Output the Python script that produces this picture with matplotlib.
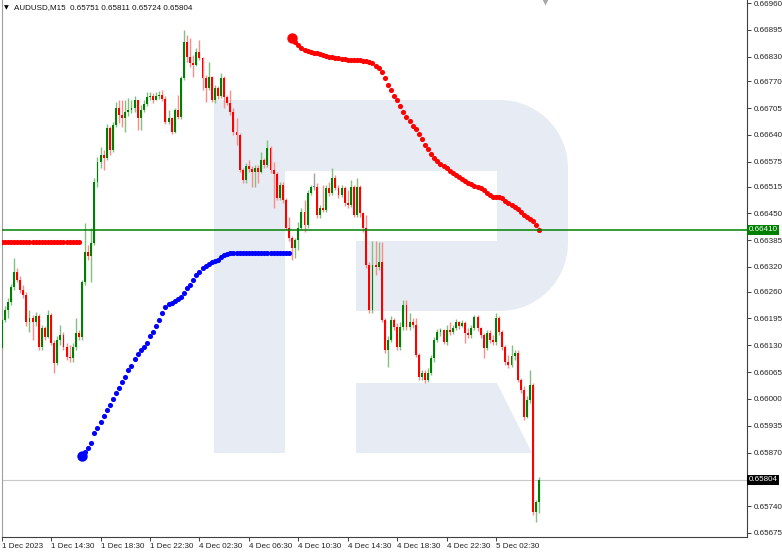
import numpy as np
import matplotlib
matplotlib.use("Agg")
import matplotlib.pyplot as plt
from matplotlib.patches import Polygon
from matplotlib.transforms import blended_transform_factory

plt.rcParams["font.family"] = ["Liberation Sans", "DejaVu Sans"]

# AUDUSD M15 candles, 1 Dec 2023 10:30 -> 5 Dec 2023 05:45
first_open = 0.66123
close_ = [
    0.66191, 0.66216, 0.66235, 0.66271, 0.66308, 0.66288, 0.66264, 0.66252, 0.66186, 0.66196,
    0.66186, 0.66201, 0.66126, 0.66172, 0.66150, 0.66203, 0.66135, 0.66087, 0.66143, 0.66155,
    0.66126, 0.66102, 0.66099, 0.66126, 0.66160, 0.66150, 0.66283, 0.66356, 0.66347, 0.66378,
    0.66526, 0.66574, 0.66591, 0.66584, 0.66657, 0.66604, 0.66664, 0.66705, 0.66688, 0.66681,
    0.66696, 0.66701, 0.66705, 0.66725, 0.66681, 0.66701, 0.66715, 0.66732, 0.66734, 0.66725,
    0.66734, 0.66737, 0.66727, 0.66671, 0.66681, 0.66647, 0.66701, 0.66684, 0.66778, 0.66865,
    0.66829, 0.66814, 0.66810, 0.66841, 0.66827, 0.66778, 0.66754, 0.66781, 0.66725, 0.66754,
    0.66734, 0.66778, 0.66732, 0.66718, 0.66696, 0.66647, 0.66640, 0.66555, 0.66531, 0.66565,
    0.66557, 0.66550, 0.66560, 0.66550, 0.66579, 0.66567, 0.66608, 0.66555, 0.66545, 0.66487,
    0.66519, 0.66482, 0.66414, 0.66390, 0.66366, 0.66385, 0.66414, 0.66453, 0.66422, 0.66499,
    0.66514, 0.66514, 0.66446, 0.66463, 0.66458, 0.66511, 0.66499, 0.66536, 0.66511, 0.66494,
    0.66511, 0.66475, 0.66470, 0.66514, 0.66446, 0.66514, 0.66451, 0.66414, 0.66325, 0.66216,
    0.66325, 0.66320, 0.66332, 0.66191, 0.66119, 0.66143, 0.66191, 0.66174, 0.66126, 0.66174,
    0.66228, 0.66174, 0.66186, 0.66179, 0.66106, 0.66053, 0.66063, 0.66046, 0.66063, 0.66099,
    0.66143, 0.66162, 0.66167, 0.66138, 0.66167, 0.66162, 0.66172, 0.66186, 0.66177, 0.66184,
    0.66160, 0.66155, 0.66172, 0.66199, 0.66172, 0.66155, 0.66123, 0.66160, 0.66143, 0.66138,
    0.66196, 0.66162, 0.66126, 0.66089, 0.66082, 0.66104, 0.66111, 0.66046, 0.66022, 0.65956,
    0.65997, 0.66034, 0.65726, 0.65751, 0.65804,
]
high = [
    0.66196, 0.66225, 0.66245, 0.66279, 0.66342, 0.66317, 0.66298, 0.66276, 0.66259, 0.66216,
    0.66203, 0.66211, 0.66206, 0.66179, 0.66177, 0.66216, 0.66208, 0.66143, 0.66152, 0.66179,
    0.66162, 0.66135, 0.66131, 0.66135, 0.66196, 0.66167, 0.66288, 0.66427, 0.66373, 0.66414,
    0.66536, 0.66587, 0.66611, 0.66604, 0.66667, 0.66662, 0.66671, 0.66720, 0.66725, 0.66725,
    0.66725, 0.66730, 0.66725, 0.66734, 0.66725, 0.66713, 0.66725, 0.66744, 0.66744, 0.66742,
    0.66744, 0.66747, 0.66749, 0.66734, 0.66701, 0.66684, 0.66705, 0.66737, 0.66783, 0.66895,
    0.66882, 0.66875, 0.66834, 0.66851, 0.66870, 0.66829, 0.66785, 0.66817, 0.66783, 0.66761,
    0.66759, 0.66790, 0.66783, 0.66737, 0.66749, 0.66705, 0.66681, 0.66645, 0.66560, 0.66572,
    0.66579, 0.66565, 0.66567, 0.66567, 0.66599, 0.66584, 0.66628, 0.66613, 0.66574, 0.66550,
    0.66526, 0.66526, 0.66487, 0.66441, 0.66395, 0.66390, 0.66429, 0.66463, 0.66482, 0.66506,
    0.66519, 0.66548, 0.66524, 0.66470, 0.66519, 0.66519, 0.66526, 0.66560, 0.66543, 0.66519,
    0.66519, 0.66516, 0.66506, 0.66531, 0.66519, 0.66536, 0.66519, 0.66453, 0.66446, 0.66332,
    0.66383, 0.66383, 0.66380, 0.66380, 0.66196, 0.66152, 0.66201, 0.66196, 0.66184, 0.66186,
    0.66240, 0.66240, 0.66208, 0.66196, 0.66196, 0.66111, 0.66070, 0.66070, 0.66075, 0.66106,
    0.66150, 0.66170, 0.66172, 0.66170, 0.66179, 0.66186, 0.66179, 0.66194, 0.66189, 0.66191,
    0.66189, 0.66172, 0.66179, 0.66203, 0.66203, 0.66174, 0.66160, 0.66167, 0.66167, 0.66155,
    0.66208, 0.66201, 0.66167, 0.66131, 0.66106, 0.66131, 0.66119, 0.66119, 0.66051, 0.66031,
    0.66007, 0.66070, 0.66039, 0.65755, 0.65811,
]
low = [
    0.66119, 0.66186, 0.66196, 0.66228, 0.66264, 0.66283, 0.66257, 0.66245, 0.66177, 0.66162,
    0.66143, 0.66177, 0.66119, 0.66119, 0.66143, 0.66148, 0.66131, 0.66063, 0.66082, 0.66131,
    0.66119, 0.66094, 0.66089, 0.66089, 0.66119, 0.66143, 0.66143, 0.66276, 0.66337, 0.66283,
    0.66373, 0.66514, 0.66560, 0.66555, 0.66579, 0.66591, 0.66599, 0.66659, 0.66669, 0.66659,
    0.66647, 0.66686, 0.66693, 0.66696, 0.66652, 0.66652, 0.66696, 0.66710, 0.66725, 0.66718,
    0.66725, 0.66727, 0.66722, 0.66667, 0.66667, 0.66642, 0.66645, 0.66679, 0.66679, 0.66773,
    0.66817, 0.66805, 0.66781, 0.66807, 0.66822, 0.66749, 0.66720, 0.66749, 0.66720, 0.66718,
    0.66727, 0.66730, 0.66705, 0.66713, 0.66688, 0.66640, 0.66616, 0.66550, 0.66524, 0.66524,
    0.66550, 0.66514, 0.66514, 0.66524, 0.66548, 0.66560, 0.66562, 0.66548, 0.66463, 0.66482,
    0.66482, 0.66475, 0.66410, 0.66383, 0.66337, 0.66342, 0.66361, 0.66410, 0.66405, 0.66414,
    0.66494, 0.66507, 0.66439, 0.66439, 0.66453, 0.66453, 0.66492, 0.66494, 0.66507, 0.66487,
    0.66490, 0.66468, 0.66463, 0.66465, 0.66441, 0.66441, 0.66441, 0.66405, 0.66317, 0.66208,
    0.66208, 0.66300, 0.66313, 0.66186, 0.66111, 0.66077, 0.66138, 0.66167, 0.66119, 0.66119,
    0.66167, 0.66167, 0.66167, 0.66172, 0.66102, 0.66046, 0.66046, 0.66038, 0.66041, 0.66058,
    0.66089, 0.66138, 0.66152, 0.66133, 0.66131, 0.66155, 0.66157, 0.66167, 0.66170, 0.66174,
    0.66135, 0.66148, 0.66148, 0.66167, 0.66165, 0.66148, 0.66099, 0.66119, 0.66135, 0.66131,
    0.66131, 0.66155, 0.66119, 0.66082, 0.66075, 0.66077, 0.66094, 0.66041, 0.66014, 0.65949,
    0.65954, 0.65990, 0.65718, 0.65701, 0.65724,
]

# dotted indicator (stop-and-reverse style) in three runs
sar_flat_start = 0
sar_flat = [
    0.66380, 0.66380, 0.66380, 0.66380, 0.66380, 0.66380, 0.66380, 0.66380, 0.66380, 0.66380,
    0.66380, 0.66380, 0.66380, 0.66380, 0.66380, 0.66380, 0.66380, 0.66380, 0.66380, 0.66380,
    0.66380, 0.66380, 0.66380, 0.66380, 0.66380, 0.66380,
]
sar_up_start = 26
sar_up = [
    0.65861, 0.65871, 0.65881, 0.65893, 0.65917, 0.65929, 0.65944, 0.65958, 0.65973, 0.65985,
    0.66000, 0.66014, 0.66026, 0.66041, 0.66053, 0.66070, 0.66080, 0.66097, 0.66109, 0.66119,
    0.66126, 0.66136, 0.66153, 0.66162, 0.66177, 0.66191, 0.66208, 0.66223, 0.66230, 0.66233,
    0.66237, 0.66242, 0.66247, 0.66257, 0.66269, 0.66276, 0.66288, 0.66300, 0.66308, 0.66317,
    0.66322, 0.66327, 0.66332, 0.66334, 0.66337, 0.66344, 0.66349, 0.66351, 0.66354, 0.66354,
    0.66354, 0.66354, 0.66354, 0.66354, 0.66354, 0.66354, 0.66354, 0.66354, 0.66354, 0.66354,
    0.66354, 0.66354, 0.66354, 0.66354, 0.66354, 0.66354, 0.66354, 0.66354,
]
sar_down_start = 94
sar_down = [
    0.66875, 0.66865, 0.66858, 0.66851, 0.66846, 0.66844, 0.66841, 0.66839, 0.66839, 0.66836,
    0.66834, 0.66831, 0.66829, 0.66829, 0.66827, 0.66827, 0.66824, 0.66824, 0.66822, 0.66822,
    0.66822, 0.66822, 0.66822, 0.66819, 0.66819, 0.66817, 0.66815, 0.66807, 0.66802, 0.66793,
    0.66778, 0.66761, 0.66749, 0.66734, 0.66725, 0.66710, 0.66696, 0.66683, 0.66674, 0.66662,
    0.66654, 0.66642, 0.66630, 0.66616, 0.66606, 0.66594, 0.66584, 0.66577, 0.66570, 0.66565,
    0.66560, 0.66553, 0.66548, 0.66543, 0.66538, 0.66533, 0.66528, 0.66524, 0.66521, 0.66516,
    0.66514, 0.66511, 0.66507, 0.66499, 0.66494, 0.66490, 0.66490, 0.66490, 0.66487, 0.66480,
    0.66475, 0.66470, 0.66465, 0.66460, 0.66453, 0.66446, 0.66441, 0.66436, 0.66431, 0.66421,
    0.66410,
]

level_line = 0.66410
last_price = 0.65804

y_ticks = [0.66960, 0.66895, 0.66830, 0.66770, 0.66705, 0.66640, 0.66575, 0.66515, 0.66450,
           0.66385, 0.66320, 0.66260, 0.66195, 0.66130, 0.66065, 0.66000, 0.65935, 0.65870,
           0.65740, 0.65675]
x_tick_bars = [0, 16, 32, 48, 64, 80, 96, 112, 128, 144, 160]
x_tick_labels = ["1 Dec 2023", "1 Dec 14:30", "1 Dec 18:30", "1 Dec 22:30", "4 Dec 02:30",
                 "4 Dec 06:30", "4 Dec 10:30", "4 Dec 14:30", "4 Dec 18:30", "4 Dec 22:30",
                 "5 Dec 02:30"]
header = "AUDUSD,M15  0.65751 0.65811 0.65724 0.65804"

W, H = 782, 553
fig = plt.figure(figsize=(W / 100, H / 100), dpi=100)
ax = fig.add_axes([1.5 / W, 16 / H, 745.5 / W, 537 / H])

px_per_bar = 3.09
ax.set_xlim(-0.06, -0.06 + 745.5 / px_per_bar)
ax.set_ylim(0.656651, 0.669673)


# watermark "R" (drawn in axes fractions from pixel layout)
def frac(x, y):
    return ((x - 1.5) / 745.5, 1 - y / 537)


t = np.linspace(np.pi / 2, 0, 20)
top_arc = [(500 + 68 * np.cos(a), 168 - 68 * np.sin(a)) for a in t]
t2 = np.linspace(0, np.pi / 2, 20)
bot_arc = [(500 + 68 * np.cos(a), 243 + 68 * np.sin(a)) for a in t2]
outline = ([(214, 100)] + top_arc + bot_arc +
           [(356, 311), (356, 241), (497, 241), (497, 171), (285, 171), (285, 453), (214, 453)])
leg = [(356, 383), (497, 383), (532, 453), (356, 453)]
wm_color = "#e7ecf4"
for shape in (outline, leg):
    ax.add_patch(Polygon([frac(x, y) for x, y in shape], closed=True, transform=ax.transAxes,
                         facecolor=wm_color, edgecolor="none", zorder=0))

# candles
close_a = np.array(close_)
open_a = np.r_[first_open, close_a[:-1]]
high_a = np.array(high)
low_a = np.array(low)
bars = np.arange(len(close_a))
up = close_a > open_a
down = close_a < open_a
flat = close_a == open_a

ax.vlines(bars[up], low_a[up], high_a[up], color="#80c080", lw=1, zorder=2)
ax.vlines(bars[down], low_a[down], high_a[down], color="#ff8a8a", lw=1, zorder=2)
ax.vlines(bars[flat], low_a[flat], high_a[flat], color="#a0a0a0", lw=1, zorder=2)

body_lo = np.minimum(open_a, close_a)
body_h = np.maximum(np.abs(close_a - open_a), 0.00002)
body_col = np.where(up, "#008000", np.where(down, "#ff0000", "#808080"))
ax.bar(bars, body_h, bottom=body_lo, width=0.62, color=body_col, linewidth=0, zorder=3)

# indicator dots
xf = sar_flat_start + np.arange(len(sar_flat))
xu = sar_up_start + np.arange(len(sar_up))
xd = sar_down_start + np.arange(len(sar_down))
ax.plot(xf, sar_flat, "o", ms=3.7, color="#ff0000", mec="none", zorder=4)
ax.plot(xu, sar_up, "o", ms=3.7, color="#0000ff", mec="none", zorder=4)
ax.plot(xd, sar_down, "o", ms=3.7, color="#ff0000", mec="none", zorder=4)
ax.plot(xu[0], sar_up[0], "o", ms=7.5, color="#0000ff", mec="none", zorder=4)
ax.plot(xd[0], sar_down[0], "o", ms=7.5, color="#ff0000", mec="none", zorder=4)

# horizontal levels
ax.axhline(level_line, color="#008000", lw=1.1, zorder=5)
ax.axhline(last_price, color="#c8c8c8", lw=0.8, zorder=1)

# axes styling
ax.yaxis.tick_right()
ax.set_yticks(y_ticks)
ax.set_yticklabels([f"{v:.5f}" for v in y_ticks])
ax.tick_params(axis="y", length=3, width=0.6, pad=2, labelsize=5.8, colors="#222222")
ax.set_xticks(x_tick_bars)
ax.set_xticklabels(x_tick_labels)
ax.tick_params(axis="x", length=3, width=0.6, pad=1.5, labelsize=5.8, colors="#222222")
for lbl in ax.get_xticklabels():
    lbl.set_ha("left")
ax.spines["top"].set_visible(False)
ax.spines["left"].set_color("#a0a0a0")
ax.spines["right"].set_color("#404040")
ax.spines["bottom"].set_color("#404040")
for s in ("left", "right", "bottom"):
    ax.spines[s].set_linewidth(0.8)

# price boxes on the scale
trans = blended_transform_factory(ax.transAxes, ax.transData)
ax.text(1.002, level_line, f"{level_line:.5f}", transform=trans, color="white", fontsize=5.8,
        va="center", ha="left", clip_on=False, zorder=6,
        bbox=dict(boxstyle="square,pad=0.2", fc="#008000", ec="none"))
ax.text(1.002, last_price, f"{last_price:.5f}", transform=trans, color="white", fontsize=5.8,
        va="center", ha="left", clip_on=False, zorder=6,
        bbox=dict(boxstyle="square,pad=0.2", fc="#000000", ec="none"))

# header and shift marker
ax.text(0.004, 0.986, "\u25bc", transform=ax.transAxes, fontsize=4.5, va="center", ha="left",
        family="DejaVu Sans")
ax.text(0.017, 0.986, header, transform=ax.transAxes, fontsize=5.8, va="center", ha="left",
        color="#111111")
ax.plot([0.729], [0.997], "v", ms=5, color="#a8a8a8", mec="none", transform=ax.transAxes,
        clip_on=False)

fig.savefig("out.png", dpi=100)
